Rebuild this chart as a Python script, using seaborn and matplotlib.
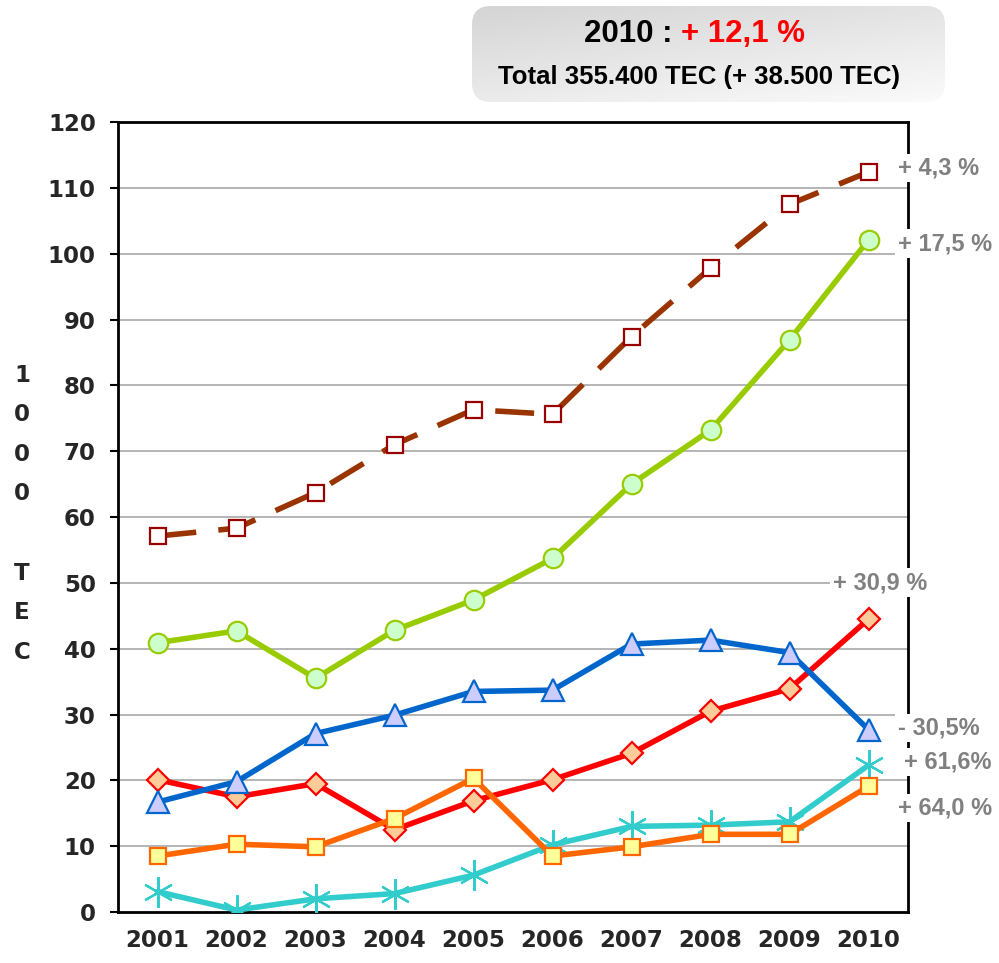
import matplotlib
matplotlib.use("Agg")
import matplotlib.pyplot as plt
from matplotlib.patches import FancyBboxPatch
import seaborn as sns
import numpy as np

years = ["2001", "2002", "2003", "2004", "2005", "2006", "2007", "2008", "2009", "2010"]
brown = [57.1, 58.3, 63.7, 71.0, 76.3, 75.6, 87.4, 97.8, 107.5, 112.4]
green = [40.9, 42.7, 35.5, 42.8, 47.4, 53.7, 65.0, 73.2, 86.9, 102.1]
blue = [16.7, 19.8, 27.1, 29.9, 33.5, 33.7, 40.7, 41.3, 39.4, 27.7]
red = [20.1, 17.5, 19.5, 12.5, 16.9, 20.1, 24.1, 30.5, 33.9, 44.5]
orange = [8.5, 10.3, 9.9, 14.2, 20.3, 8.5, 9.9, 11.8, 11.8, 19.1]
cyan = [3.1, 0.3, 2.0, 2.8, 5.6, 10.2, 13.0, 13.2, 13.7, 22.3]

change_labels = ["+ 4,3 %", "+ 17,5 %", "+ 30,9 %", "- 30,5%", "+ 61,6%", "+ 64,0 %"]
yticks = list(range(0, 121, 10))

sns.set_style("white")
plt.rcParams["font.family"] = ["Liberation Sans", "DejaVu Sans"]

fig = plt.figure(figsize=(9.99, 9.63), dpi=100)
ax = fig.add_axes([118 / 999, 51 / 963, 790 / 999, 790 / 963])

xpos = np.arange(len(years))

# series styles: (values, line colour, marker, size, face, edge, linestyle, zorder)
series = [
    (brown, "#993300", "s", 12, "white", "#990000", (0, (7, 4)), 3),
    (green, "#99cc00", "o", 14, "#ccffcc", "#99cc00", "-", 3),
    (red, "#ff0000", "D", 11, "#ffcc99", "#ff0000", "-", 4),
    (blue, "#0066cc", "^", 16, "#ccccff", "#0066cc", "-", 5),
    (cyan, "#33cccc", (6, 2, 0), 22, "#33cccc", "#33cccc", "-", 4),
    (orange, "#ff6600", "s", 12, "#ffff99", "#ff6600", "-", 6),
]
for vals, col, mk, ms, fc, ec, ls, z in series:
    sns.lineplot(x=xpos, y=vals, ax=ax, color=col, lw=4.0, marker=mk, markersize=ms,
                 markerfacecolor=fc, markeredgecolor=ec, markeredgewidth=1.6,
                 linestyle=ls, zorder=z)

ax.set_xlim(-0.5, 9.5)
ax.set_ylim(0, 120)
ax.set_yticks(yticks)
ax.set_xticks(np.arange(-0.5, 10, 1))
ax.set_xticklabels([])
ax.set_xticks(xpos, minor=True)
ax.set_xticklabels(years, minor=True)
ax.tick_params(axis="x", which="major", length=7, width=1.5, direction="out", color="black")
ax.tick_params(axis="x", which="minor", length=0, pad=12)
ax.tick_params(axis="y", length=6, width=1.5, direction="out", color="black", pad=10, left=True)
for lab in ax.get_yticklabels() + ax.get_xticklabels(minor=True):
    lab.set_fontfamily("DejaVu Sans")
    lab.set_fontweight("heavy")
    lab.set_fontsize(16.5)
ax.set_xlabel("")
ax.set_ylabel("")
for y in yticks[1:-1]:
    ax.axhline(y, color="#a0a0a0", lw=1.1, zorder=1)
for sp in ax.spines.values():
    sp.set_color("black")
    sp.set_linewidth(2)
    sp.set_visible(True)

# change labels on the right
label_pos = [(9.37, 113.0), (9.37, 101.5), (8.55, 50.0), (9.37, 27.95), (9.45, 22.8), (9.37, 15.8)]
for txt, (lx, ly) in zip(change_labels, label_pos):
    ax.text(lx, ly, txt, color="#808080", fontsize=17, fontweight="bold", ha="left", va="center",
            zorder=10, clip_on=False,
            bbox=dict(facecolor="white", edgecolor="none", pad=2))

# vertical y label
for i, ch in enumerate("1000 TEC"):
    if ch == " ":
        continue
    fig.text(22 / 999, 1 - (375 + i * 39.6) / 963, ch, fontfamily="DejaVu Sans", fontweight="heavy",
             fontsize=16.5, ha="center", va="center")

# header box with light gradient
hax = fig.add_axes([472 / 999, 1 - 102 / 963, 473 / 999, 96 / 963])
hax.set_xlim(0, 1)
hax.set_ylim(0, 1)
hax.axis("off")
gx, gy = np.meshgrid(np.linspace(0, 1, 200), np.linspace(0, 1, 60))
grad = 0.83 + 0.06 * gx + 0.09 * gy
img = hax.imshow(grad, extent=[0, 1, 0, 1], origin="upper", cmap="gray", vmin=0, vmax=1,
                 aspect="auto")
box = FancyBboxPatch((0.0, 0.0), 1.0, 1.0, boxstyle="round,pad=0,rounding_size=0.04",
                     mutation_aspect=473 / 96, facecolor="none", edgecolor="none",
                     transform=hax.transAxes)
hax.add_patch(box)
img.set_clip_path(box)

fig.text(673 / 999, 1 - 34 / 963, "2010 :", fontsize=22.5, fontweight="bold",
         ha="right", va="center", color="black")
fig.text(681 / 999, 1 - 34 / 963, "+ 12,1 %", fontsize=22.5, fontweight="bold",
         ha="left", va="center", color="#ff0000")
fig.text(699 / 999, 1 - 77 / 963, "Total 355.400 TEC (+ 38.500 TEC)", fontsize=18.5,
         fontweight="bold", ha="center", va="center", color="black")

fig.savefig("out.png", dpi=100)
